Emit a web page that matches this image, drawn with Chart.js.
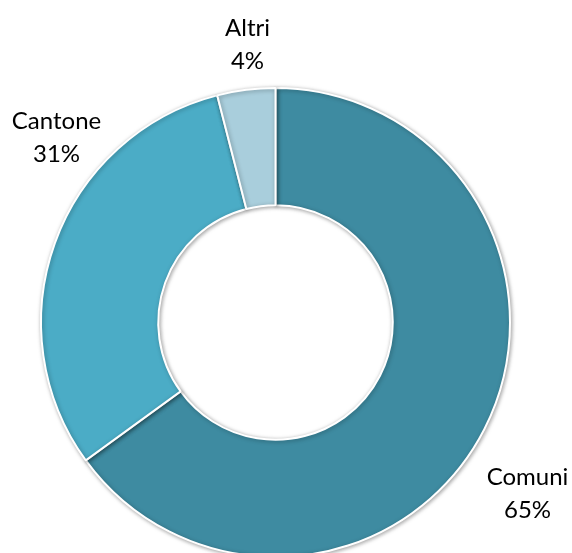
<!DOCTYPE html>
<html>
<head>
<meta charset="utf-8">
<script src="https://cdn.jsdelivr.net/npm/chart.js@4"></script>
<style>
  html, body { margin: 0; padding: 0; background: #fff; overflow: hidden; }
  #wrap { width: 572px; height: 600px; }
</style>
</head>
<body>
<div id="wrap"><canvas id="myChart" width="572" height="600"></canvas></div>
<script>
'use strict'
// data
let sliceNames = ['Comuni', 'Cantone', 'Altri'];
let slicePercents = [65, 31, 4];
let sliceColors = ['#3e8ba1', '#4bacc6', '#a9cedc'];

// where each label sits, relative to the ring center
let labelOffsets = [
  { dx: 252, dy: 171 },
  { dx: -219, dy: -185 },
  { dx: -28, dy: -278 }
];

const ctx = document.getElementById('myChart');

// draws "name\npct%" next to each slice
let sliceLabels = {
  id: 'sliceLabels',
  afterDatasetsDraw(chart) {
    let c = chart.ctx;
    let arcs = chart.getDatasetMeta(0).data;
    c.save();
    c.font = '24px Lato, "Open Sans", sans-serif';
    c.fillStyle = '#000';
    c.textAlign = 'center';
    c.textBaseline = 'middle';
    for (let i = 0; i < arcs.length; i++) {
      let x = arcs[i].x + labelOffsets[i].dx;
      let y = arcs[i].y + labelOffsets[i].dy;
      c.fillText(sliceNames[i], x, y - 16);
      c.fillText(slicePercents[i] + '%', x, y + 17);
    }
    c.restore();
  }
};

// soft shadow under the ring
let ringShadow = {
  id: 'ringShadow',
  beforeDatasetsDraw(chart) {
    let c = chart.ctx;
    c.save();
    c.shadowColor = 'rgba(0,0,0,0.35)';
    c.shadowBlur = 4;
    c.shadowOffsetX = 1;
    c.shadowOffsetY = 1;
  },
  afterDatasetsDraw(chart) {
    chart.ctx.restore();
  }
};

new Chart(ctx, {
  type: 'doughnut',
  data: {
    labels: sliceNames,
    datasets: [{
      data: slicePercents,
      backgroundColor: sliceColors,
      borderColor: '#ffffff',
      borderWidth: 2
    }]
  },
  options: {
    responsive: false,
    animation: false,
    cutout: '50%',
    layout: { padding: { top: 87, left: 40, right: 61, bottom: 42 } },
    plugins: {
      legend: { display: false },
      tooltip: { enabled: false }
    }
  },
  plugins: [ringShadow, sliceLabels]
});
</script>
</body>
</html>
